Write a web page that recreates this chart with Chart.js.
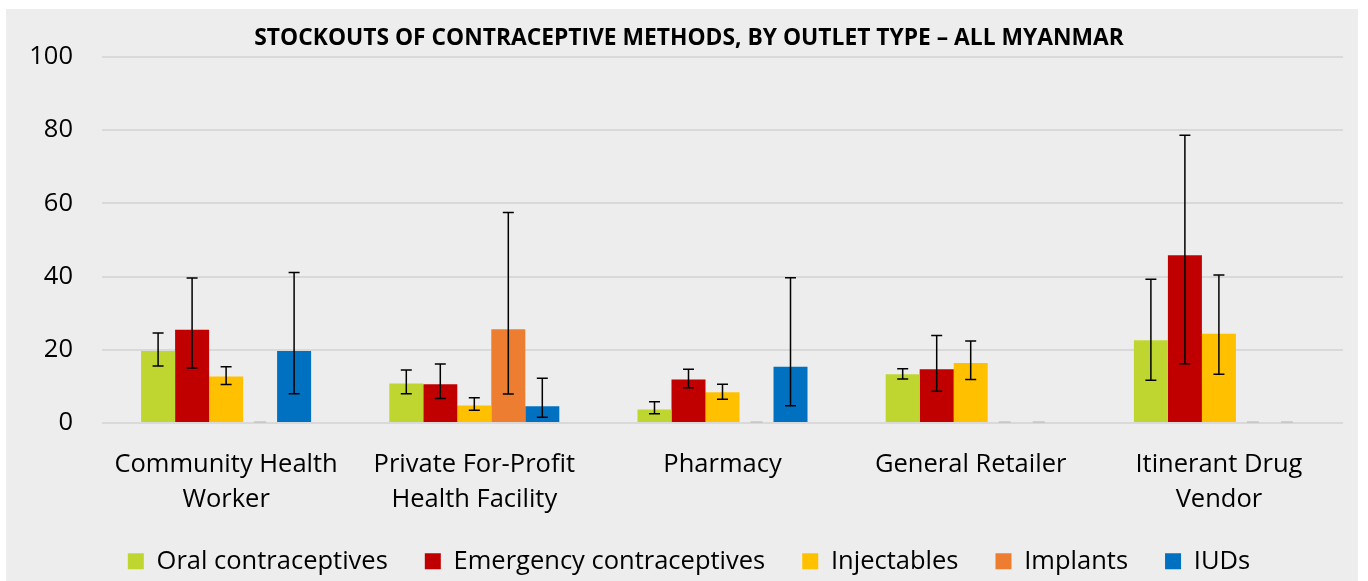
<!DOCTYPE html>
<html>
<head>
<meta charset="utf-8">
<script src="https://cdn.jsdelivr.net/npm/chart.js@4.4.1/dist/chart.umd.min.js"></script>
<style>
  html, body { margin: 0; padding: 0; background: #ffffff; }
  #wrap { width: 1368px; height: 581px; }
</style>
</head>
<body>
<div id="wrap"><canvas id="c" width="1368" height="581"></canvas></div>
<script>
const categories = [["Community Health", "Worker"], ["Private For-Profit", "Health Facility"], "Pharmacy", "General Retailer", ["Itinerant Drug", "Vendor"]];
const seriesNames = ["Oral contraceptives", "Emergency contraceptives", "Injectables", "Implants", "IUDs"];
const yTicks = [0, 20, 40, 60, 80, 100];

const oral     = [19.7, 10.8, 3.7, 13.3, 22.6];
const oralLo   = [15.6, 8.0, 2.5, 12.0, 11.7];
const oralHi   = [24.6, 14.5, 5.8, 14.8, 39.3];

const emerg    = [25.5, 10.6, 11.9, 14.7, 45.8];
const emergLo  = [15.0, 6.7, 9.6, 8.7, 16.2];
const emergHi  = [39.6, 16.1, 14.7, 23.9, 78.6];

const inject   = [12.7, 4.8, 8.4, 16.4, 24.4];
const injectLo = [10.5, 3.5, 6.5, 11.9, 13.3];
const injectHi = [15.4, 6.9, 10.6, 22.4, 40.4];

const implant   = [0, 25.6, 0, 0, 0];
const implantLo = [0, 7.9, 0, 0, 0];
const implantHi = [0, 57.5, 0, 0, 0];

const iud   = [19.7, 4.6, 15.4, 0, 0];
const iudLo = [8.0, 1.6, 4.7, 0, 0];
const iudHi = [41.1, 12.2, 39.7, 0, 0];

const colors = ["#c0d630", "#c00000", "#ffc000", "#ed7d31", "#0070c0"];
const values = [oral, emerg, inject, implant, iud];
const lows = [oralLo, emergLo, injectLo, implantLo, iudLo];
const highs = [oralHi, emergHi, injectHi, implantHi, iudHi];

const FONT = "'Open Sans', 'Liberation Sans', sans-serif";

const bgPlugin = {
  id: 'bg',
  beforeDraw(chart) {
    const ctx = chart.ctx;
    ctx.save();
    ctx.fillStyle = '#ffffff';
    ctx.fillRect(0, 0, chart.width, chart.height);
    ctx.fillStyle = '#ededed';
    ctx.fillRect(6, 9, chart.width - 16, chart.height - 9);
    ctx.restore();
  }
};

const errPlugin = {
  id: 'errbars',
  afterDatasetsDraw(chart) {
    const ctx = chart.ctx;
    const y = chart.scales.y;
    ctx.save();
    chart.data.datasets.forEach((ds, di) => {
      const meta = chart.getDatasetMeta(di);
      meta.data.forEach((bar, i) => {
        const lo = ds.errLo[i], hi = ds.errHi[i];
        if (lo == null || hi == null) return;
        const x = bar.x;
        const yl = y.getPixelForValue(lo), yh = y.getPixelForValue(hi);
        const cap = 5.5;
        if (hi === lo) {
          ctx.strokeStyle = '#bdbdbd';
          ctx.lineWidth = 1.2;
          ctx.beginPath();
          ctx.moveTo(x - 6, yl - 1); ctx.lineTo(x + 6, yl - 1);
          ctx.stroke();
          return;
        }
        ctx.strokeStyle = '#000000';
        ctx.lineWidth = 1.5;
        ctx.beginPath();
        ctx.moveTo(x, yh); ctx.lineTo(x, yl);
        ctx.moveTo(x - cap, yh); ctx.lineTo(x + cap, yh);
        ctx.moveTo(x - cap, yl); ctx.lineTo(x + cap, yl);
        ctx.stroke();
      });
    });
    ctx.restore();
  }
};

const datasets = seriesNames.map((name, k) => ({
  label: name,
  data: values[k],
  errLo: lows[k],
  errHi: highs[k],
  backgroundColor: colors[k],
  borderWidth: 0,
  categoryPercentage: 0.685,
  barPercentage: 1.0
}));

new Chart(document.getElementById('c'), {
  type: 'bar',
  data: { labels: categories, datasets: datasets },
  plugins: [bgPlugin, errPlugin],
  options: {
    responsive: false,
    animation: false,
    devicePixelRatio: 1,
    layout: { padding: { left: 14, right: 4, top: 9, bottom: -3 } },
    plugins: {
      title: {
        display: true,
        text: 'STOCKOUTS OF CONTRACEPTIVE METHODS, BY OUTLET TYPE \u2013 ALL MYANMAR',
        color: '#000000',
        font: { family: FONT, size: 22.8, weight: 'bold', lineHeight: 1.2 },
        padding: { top: 15.5, bottom: 5.1 }
      },
      legend: {
        display: true,
        position: 'bottom',
        labels: {
          color: '#000000',
          font: { family: FONT, size: 25.5 },
          boxWidth: 16,
          boxHeight: 16,
          padding: 37
        }
      },
      tooltip: { enabled: false }
    },
    scales: {
      x: {
        grid: { display: false, drawTicks: false },
        border: { display: false },
        ticks: {
          color: '#000000',
          font: { family: FONT, size: 25.5, lineHeight: 1.38 },
          padding: 24,
          maxRotation: 0,
          autoSkip: false
        },
        afterFit(scale) {
          scale.height = 88.5;
          scale._computeLabelArea = () => undefined;
        }
      },
      y: {
        min: 0,
        max: 100,
        afterBuildTicks(scale) { scale.ticks = yTicks.map(v => ({ value: v })); },
        grid: { color: '#d9d9d9', lineWidth: 2, drawTicks: false },
        border: { display: false },
        ticks: {
          color: '#000000',
          font: { family: FONT, size: 25.5 },
          padding: 29
        },
        afterFit(scale) { scale.width = 88; }
      },
      yr: {
        position: 'right',
        display: true,
        grid: { display: false, drawTicks: false },
        border: { display: false },
        ticks: { display: false },
        afterFit(scale) { scale.width = 21; }
      }
    }
  }
});
</script>
</body>
</html>
